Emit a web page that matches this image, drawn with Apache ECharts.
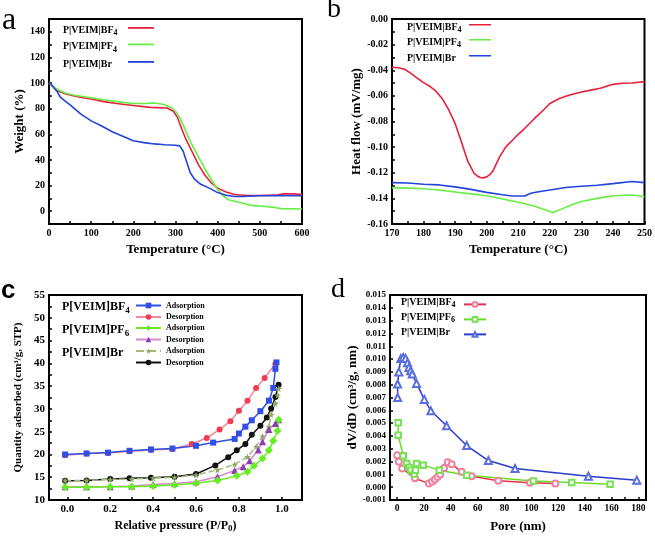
<!DOCTYPE html>
<html><head><meta charset="utf-8">
<script src="https://cdn.jsdelivr.net/npm/echarts@6/dist/echarts.min.js"></script>
<style>html,body{margin:0;padding:0;background:#fff}#c{width:655px;height:536px}</style>
</head><body><div id="c"></div>
<script>
// ---------- Panel a : TGA ----------
const tgaTempBF4 = [0,10,20,40,60,80,100,130,160,200,240,280,295,305,315,325,340,355,370,385,400,420,440,470,500,540,555,580,600];
const tgaWtBF4   = [100,97,94,91.5,90,88.5,87.5,85.5,84,82.5,81,80.5,78,73,64,56,46,36,28,22,18,15,13,12.3,12.3,12.5,13.5,13.5,13];
const tgaTempPF4 = [0,10,20,40,60,80,100,130,160,200,230,250,270,290,300,310,320,330,345,360,375,390,400,410,425,450,480,500,530,550,600];
const tgaWtPF4   = [100,97.5,95,92,90.5,89.5,88.5,87,85.5,84,84,84.5,83.5,81,78,73,66,58,48,39,30,22,17,13,9,7,4.5,4,3.2,2,1.7];
const tgaTempBr  = [0,5,10,20,25,30,40,50,75,100,125,150,175,200,225,250,275,300,310,318,325,335,345,360,380,400,420,440,460,500,550,600];
const tgaWtBr    = [100,99,97,93,90,88,85.5,83,76,70.5,66.5,62,58.5,55,53.5,52.5,51.8,51.5,51,47,40,30,25,21,18,14.5,12.5,11.5,11.5,12,12.3,12];
const aXLabels = [0,100,200,300,400,500,600];
const aXTicks  = [0,50,100,150,200,250,300,350,400,450,500,550,600];
const aYLabels = [0,20,40,60,80,100,120,140];
const aYTicks  = [0,10,20,30,40,50,60,70,80,90,100,110,120,130,140];

// ---------- Panel b : DSC ----------
const dscTempBF4 = [170,172,174,176,178,180,182,184,186,188,190,192,194,196,197,198,199,200,201,202,204,206,208,210,212,215,218,220,223,226,230,233,236,240,243,246,250];
const dscHfBF4   = [-0.0377,-0.0380,-0.0392,-0.0425,-0.0462,-0.0497,-0.0525,-0.0565,-0.0625,-0.0710,-0.0815,-0.0960,-0.1110,-0.1205,-0.1225,-0.1237,-0.1240,-0.1232,-0.1215,-0.1185,-0.1080,-0.1000,-0.0950,-0.0900,-0.0855,-0.0780,-0.0710,-0.0660,-0.0620,-0.0595,-0.0570,-0.0555,-0.0540,-0.0510,-0.0502,-0.0500,-0.0489];
const dscTempPF4 = [170,175,180,185,190,195,200,205,210,215,218,221,224,227,230,235,240,246,250];
const dscHfPF4   = [-0.1316,-0.1320,-0.1325,-0.1335,-0.1350,-0.1365,-0.1380,-0.1405,-0.1430,-0.1460,-0.1485,-0.1510,-0.1480,-0.1450,-0.1425,-0.1400,-0.1380,-0.1374,-0.1387];
const dscTempBr  = [170,175,180,185,190,195,200,205,208,212,214,216,220,225,230,235,240,246,250];
const dscHfBr    = [-0.1277,-0.1280,-0.1290,-0.1295,-0.1310,-0.1330,-0.1353,-0.1372,-0.1381,-0.1381,-0.1360,-0.1350,-0.1335,-0.1315,-0.1305,-0.1298,-0.1285,-0.1268,-0.1277];
const bXLabels = [170,180,190,200,210,220,230,240,250];
const bXTicks  = [170,175,180,185,190,195,200,205,210,215,220,225,230,235,240,245,250];
const bYLabels = [0,-0.02,-0.04,-0.06,-0.08,-0.10,-0.12,-0.14,-0.16];
const bYTicks  = [0,-0.01,-0.02,-0.03,-0.04,-0.05,-0.06,-0.07,-0.08,-0.09,-0.10,-0.11,-0.12,-0.13,-0.14,-0.15,-0.16];

// ---------- Panel c : isotherms ----------
const isoPBF4ads = [-0.01,0.09,0.19,0.29,0.39,0.49,0.6,0.68,0.78,0.8,0.83,0.86,0.9,0.94,0.96,0.97,0.975];
const isoQBF4ads = [20.0,20.2,20.4,20.8,21.1,21.3,21.9,22.6,23.4,24.6,26.1,27.5,29.5,31.8,34.6,38.8,40.2];
const isoPBF4des = [-0.01,0.09,0.19,0.29,0.39,0.49,0.58,0.65,0.71,0.76,0.8,0.84,0.88,0.92,0.97];
const isoQBF4des = [19.8,20.2,20.3,20.7,21.0,21.2,22.3,23.6,25.5,27.3,29.6,31.8,34.6,36.8,39.9];
const isoPPF6ads = [-0.01,0.09,0.2,0.3,0.4,0.5,0.6,0.7,0.79,0.84,0.87,0.91,0.94,0.96,0.98,0.985];
const isoQPF6ads = [12.8,12.8,12.9,12.9,13.1,13.3,13.7,14.3,15.3,16.2,17.5,19.1,20.9,23.0,25.2,27.6];
const isoPPF6des = [-0.01,0.09,0.2,0.3,0.4,0.5,0.6,0.7,0.78,0.82,0.85,0.89,0.91,0.94,0.97,0.985];
const isoQPF6des = [12.9,12.9,12.9,13.1,13.4,13.6,14.0,15.1,16.5,17.3,18.6,21.0,22.8,25.5,26.8,27.6];
const isoPBrads  = [-0.01,0.09,0.2,0.3,0.4,0.5,0.6,0.7,0.78,0.84,0.88,0.91,0.94,0.95,0.97,0.98,0.985];
const isoQBrads  = [14.3,14.3,14.5,14.6,14.8,15.0,15.5,16.6,17.8,19.5,21.7,24.0,26.1,28.7,31.2,33.0,34.4];
const isoPBrdes  = [-0.01,0.09,0.2,0.29,0.39,0.5,0.6,0.69,0.75,0.79,0.83,0.86,0.9,0.93,0.95,0.97,0.985];
const isoQBrdes  = [14.2,14.3,14.6,14.8,14.9,15.1,15.7,17.6,19.4,20.9,22.3,24.3,26.3,28.1,30.1,32.6,35.3];
const cXLabels = [0,0.2,0.4,0.6,0.8,1.0];
const cXTicks  = [0,0.1,0.2,0.3,0.4,0.5,0.6,0.7,0.8,0.9,1.0];
const cYLabels = [10,15,20,25,30,35,40,45,50,55];
const cYTicks  = [10,12.5,15,17.5,20,22.5,25,27.5,30,32.5,35,37.5,40,42.5,45,47.5,50,52.5,55];

// ---------- Panel d : pore size ----------
const poreBF4 = [0,1.2,3.7,13.2,23.6,26.1,28.1,30.1,32,34.9,37.6,40.6,48,55.5,75.4,99,118];
const dvBF4   = [0.0025,0.00198,0.00145,0.0007,0.00028,0.00042,0.0006,0.0008,0.001,0.0015,0.00195,0.0018,0.0012,0.00085,0.0005,0.00035,0.00028];
const porePF6 = [0.7,0.7,4.5,7,8.7,10.2,12.7,13.7,14.4,19.4,31.4,51.8,101.6,130.2,158.8];
const dvPF6   = [0.00503,0.00406,0.00245,0.00185,0.00154,0.00133,0.00102,0.00133,0.00185,0.00172,0.00133,0.00094,0.00049,0.00036,0.00023];
const poreBr  = [0.3,0.3,1.2,2.7,4.5,6.2,7.7,8.7,10,11.2,14.4,20.2,25.1,36.8,51.8,68,87.9,142.6,178.7];
const dvBr    = [0.0070,0.00805,0.0090,0.01005,0.01013,0.01005,0.00971,0.00935,0.00909,0.00883,0.0081,0.00685,0.00596,0.00479,0.00325,0.00208,0.00146,0.00085,0.00055];
const dXLabels = [0,20,40,60,80,100,120,140,160,180];
const dXTicks  = [0,10,20,30,40,50,60,70,80,90,100,110,120,130,140,150,160,170,180];
const dYLabels = [-0.001,0,0.001,0.002,0.003,0.004,0.005,0.006,0.007,0.008,0.009,0.010,0.011,0.012,0.013,0.014,0.015];

// ---------- build ----------
const SERIF = 'Liberation Serif';
const zip = (xs, ys) => xs.map((x, i) => [x, ys[i]]);
const RED = '#e8203c', GREEN = '#66ee44', BLUE = '#2244dd';

function axis(gridIndex, min, max, labels, ticks, fmt, fs, name, gap, nameFs, rich) {
  return {
    type: 'value', gridIndex, min, max,
    axisLine: { show: true, onZero: false, lineStyle: { color: '#000', width: 2 } },
    axisTick: { show: true, inside: true, length: 3, customValues: ticks, lineStyle: { color: '#000', width: 1.5 } },
    axisLabel: { show: true, customValues: labels, formatter: fmt, color: '#000', fontFamily: SERIF, fontWeight: 'bold', fontSize: fs, margin: 4 },
    splitLine: { show: false },
    name, nameLocation: 'middle', nameGap: gap,
    nameTextStyle: Object.assign({ fontFamily: SERIF, fontWeight: 'bold', fontSize: nameFs, color: '#000' }, rich ? { rich } : {})
  };
}
const richBase = (fs) => ({
  t: { fontFamily: SERIF, fontWeight: 'bold', fontSize: fs, color: '#000', lineHeight: 15 },
  s: { fontFamily: SERIF, fontWeight: 'bold', fontSize: Math.round(fs * 0.72), color: '#000', verticalAlign: 'bottom' }
});

const grids = [
  { left: 49, top: 19, width: 253, height: 205 },
  { left: 392, top: 19, width: 254, height: 205 },
  { left: 49, top: 295, width: 253, height: 205 },
  { left: 390, top: 295, width: 256, height: 205 }
].map(g => Object.assign(g, { show: true, borderColor: '#000', borderWidth: 2, backgroundColor: 'transparent' }));

const xAxes = [
  axis(0, 0, 600, aXLabels, aXTicks, v => String(v), 10, 'Temperature (°C)', 19.5, 13),
  axis(1, 170, 250, bXLabels, bXTicks, v => String(v), 10, 'Temperature (°C)', 19.5, 13),
  axis(2, -0.0853, 1.094, cXLabels, cXTicks, v => v.toFixed(1), 11, '{t|Relative pressure (P/P}{s|0}{t|)}', 18, 12, richBase(12)),
  axis(3, -5.4, 185.6, dXLabels, dXTicks, v => String(v), 9.5, 'Pore (nm)', 20.5, 13)
];
const yAxes = [
  axis(0, -10, 150, aYLabels, aYTicks, v => String(v), 10, 'Weight (%)', 20.5, 13),
  axis(1, -0.16, 0, bYLabels, bYTicks, v => v.toFixed(2), 10, 'Heat flow (mV/mg)', 27.5, 13),
  axis(2, 10, 55, cYLabels, cYTicks, v => String(v), 11, 'Quantity adsorbed (cm³/g, STP)', 25.5, 11),
  axis(3, -0.001, 0.015, dYLabels, dYLabels, v => v.toFixed(3), 9, 'dV/dD (cm³/g, nm)', 30.5, 13)
];

function lineS(name, gi, data, color, width) {
  return { name, type: 'line', xAxisIndex: gi, yAxisIndex: gi, data, symbol: 'none', showSymbol: false,
    lineStyle: { color, width: width || 1.6 }, itemStyle: { color }, animation: false, clip: true };
}
function markS(name, gi, data, symbol, size, color, lineColor, lineType) {
  return { name, type: 'line', xAxisIndex: gi, yAxisIndex: gi, data, symbol, symbolSize: size, showSymbol: true,
    lineStyle: { color: lineColor, width: 1.5, type: lineType || 'solid' }, itemStyle: { color, borderWidth: 1.2 },
    animation: false, clip: false };
}
const STAR = 'path://M50,0 L61,35 L98,35 L68,57 L79,91 L50,70 L21,91 L32,57 L2,35 L39,35 Z';

const series = [
  lineS('aBF4', 0, zip(tgaTempBF4, tgaWtBF4), RED),
  lineS('aPF4', 0, zip(tgaTempPF4, tgaWtPF4), GREEN),
  lineS('aBr', 0, zip(tgaTempBr, tgaWtBr), BLUE),
  lineS('bBF4', 1, zip(dscTempBF4, dscHfBF4), RED),
  lineS('bPF4', 1, zip(dscTempPF4, dscHfPF4), GREEN),
  lineS('bBr', 1, zip(dscTempBr, dscHfBr), BLUE),
  markS('c1', 2, zip(isoPBF4des, isoQBF4des), 'circle', 6, '#f03c50', '#f08898'),
  markS('c0', 2, zip(isoPBF4ads, isoQBF4ads), 'rect', 6, '#2f4fe6', '#2f4fe6'),
  markS('c5', 2, zip(isoPBrdes, isoQBrdes), 'circle', 6, '#111', '#111'),
  markS('c4', 2, zip(isoPBrads, isoQBrads), STAR, 7, '#8fa860', '#a8b878', 'dashed'),
  markS('c3', 2, zip(isoPPF6des, isoQPF6des), 'triangle', 7, '#8c3cb4', '#d888cc'),
  markS('c2', 2, zip(isoPPF6ads, isoQPF6ads), 'diamond', 8, '#66ee22', '#66ee22'),
  markS('dBF4', 3, zip(poreBF4, dvBF4), 'emptyCircle', 6, '#f080a0', '#e8304a'),
  markS('dPF6', 3, zip(porePF6, dvPF6), 'emptyRect', 5.5, '#77e055', '#66dd22'),
  markS('dBr', 3, zip(poreBr, dvBr), 'emptyTriangle', 7, '#5a6ee0', '#2a3ccc')
];

// legend samples (icon only) + label texts
const BAR = 'path://M0,0 L26,0 L26,1.8 L0,1.8 Z';
const sampleRows = [
  // series, label, text left, centerY, icon left, icon width
  ['aBF4', '{t|P|VEIM|BF}{s|4}', 63, 32, 128, 26],
  ['aPF4', '{t|P|VEIM|PF}{s|4}', 63, 48.5, 128, 26],
  ['aBr',  '{t|P|VEIM|Br}',      63, 66, 128, 26],
  ['bBF4', '{t|P|VEIM|BF}{s|4}', 407, 29, 469, 22],
  ['bPF4', '{t|P|VEIM|PF}{s|4}', 407, 44, 469, 22],
  ['bBr',  '{t|P|VEIM|Br}',      407, 60, 469, 22],
  ['dBF4', '{t|P|VEIM|BF}{s|4}', 401, 304, 463, 22],
  ['dPF6', '{t|P|VEIM|PF}{s|6}', 401, 319, 463, 22],
  ['dBr',  '{t|P|VEIM|Br}',      401, 334, 463, 22]
];
const legends = sampleRows.map(([name, , , cy, il, iw]) => {
  const isD = name[0] === 'd';
  const ih = isD ? 6 : 10;
  return {
    data: [name], orient: 'vertical', left: il, top: cy - ih / 2, padding: 0, align: 'left',
    itemWidth: iw, itemHeight: ih, itemGap: 0, selectedMode: false,
    icon: isD ? undefined : BAR,
    formatter: () => '', textStyle: { fontSize: ih, lineHeight: ih }
  };
});
const cLegendRows = [
  ['c0', 'Adsorption', 305.5], ['c1', 'Desorption', 317], ['c2', 'Adsorption', 328],
  ['c3', 'Desorption', 339.5], ['c4', 'Adsorption', 351], ['c5', 'Desorption', 362.5]
];
cLegendRows.forEach(([name, txt, cy]) => legends.push({
  data: [name], orient: 'vertical', left: 135, top: cy - 5, padding: 0, align: 'left',
  itemWidth: 25, itemHeight: 7, itemGap: 0, selectedMode: false,
  formatter: () => txt,
  textStyle: { fontFamily: SERIF, fontWeight: 'bold', fontSize: 8, color: '#000', lineHeight: 10 }
}));

const subRich = (fs) => ({
  t: { fontFamily: SERIF, fontWeight: 'bold', fontSize: fs, fill: '#000', lineHeight: Math.round(fs * 1.35) },
  s: { fontFamily: SERIF, fontWeight: 'bold', fontSize: Math.round(fs * 0.75), fill: '#000', verticalAlign: 'bottom' }
});
const graphics = [
  { type: 'text', left: 2, top: 5, style: { text: 'a', font: '32px "Liberation Serif"', fill: '#000' } },
  { type: 'text', left: 327, top: -4, style: { text: 'b', font: '28px "Liberation Serif"', fill: '#000' } },
  { type: 'text', left: 1, top: 278, style: { text: 'c', font: 'bold 26px "Liberation Sans"', fill: '#000' } },
  { type: 'text', left: 331, top: 276, style: { text: 'd', font: '28px "Liberation Serif"', fill: '#000' } }
];
sampleRows.forEach(([, txt, tl, cy]) => graphics.push({
  type: 'text', left: tl, top: cy - 7, style: { text: txt, rich: subRich(10) }
}));
const cNames = [['{t|P[VEIM]BF}{s|4}', 309], ['{t|P[VEIM]PF}{s|6}', 332], ['{t|P[VEIM]Br}', 355]];
cNames.forEach(([txt, cy]) => graphics.push({
  type: 'text', left: 62, top: cy - 8, style: { text: txt, rich: subRich(12) }
}));

const chart = echarts.init(document.getElementById('c'), null, { renderer: 'canvas' });
chart.setOption({
  animation: false, backgroundColor: '#fff',
  grid: grids, xAxis: xAxes, yAxis: yAxes, series, legend: legends, graphic: graphics
});
</script></body></html>
